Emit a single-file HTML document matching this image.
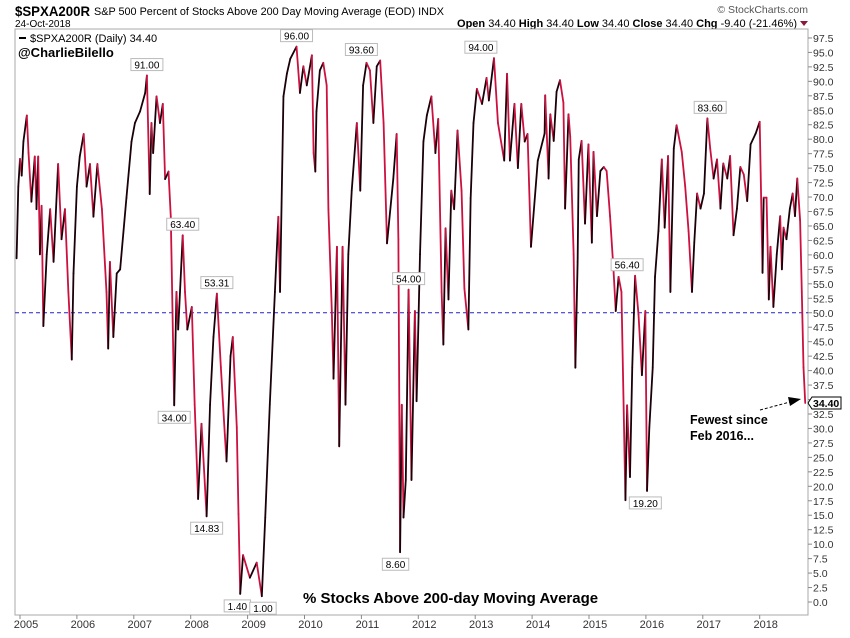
<!DOCTYPE html>
<html><head><meta charset="utf-8"><style>
body{margin:0;background:#fff;font-family:"Liberation Sans",sans-serif}
svg text{font-family:"Liberation Sans",sans-serif}
</style></head><body>
<svg id="chart" width="850" height="633" viewBox="0 0 850 633" xmlns="http://www.w3.org/2000/svg">
<rect x="0" y="0" width="850" height="633" fill="#fff"/>
<text x="15" y="16" font-size="14" font-weight="bold" textLength="75" lengthAdjust="spacingAndGlyphs">$SPXA200R</text>
<text x="94" y="15" font-size="11" textLength="350" lengthAdjust="spacingAndGlyphs">S&amp;P 500 Percent of Stocks Above 200 Day Moving Average (EOD) INDX</text>
<text x="15" y="27" font-size="10">24-Oct-2018</text>
<text x="808" y="13" font-size="10.5" fill="#555" text-anchor="end">© StockCharts.com</text>
<text x="797" y="27" font-size="11" text-anchor="end"><tspan font-weight="bold">Open</tspan> 34.40 <tspan font-weight="bold">High</tspan> 34.40 <tspan font-weight="bold">Low</tspan> 34.40 <tspan font-weight="bold">Close</tspan> 34.40 <tspan font-weight="bold">Chg</tspan> -9.40 (-21.46%)</text>
<polygon points="800,21 808,21 804,26" fill="#8b1a3a"/>
<rect x="15" y="29" width="793" height="586" fill="none" stroke="#aaa"/>
<g id="grid"></g>
<g id="series"></g>
<g id="ann"></g>
<line x1="19" y1="38" x2="26" y2="38" stroke="#000" stroke-width="2"/>
<text x="30" y="42" font-size="11" font-family="Liberation Mono">$SPXA200R (Daily) 34.40</text>
<text x="18" y="57" font-size="13" font-weight="bold">@CharlieBilello</text>
<text x="303" y="603" font-size="15" font-weight="bold">% Stocks Above 200-day Moving Average</text>
<text x="690" y="424" font-size="12.5" font-weight="bold">Fewest since</text>
<text x="690" y="440" font-size="12.5" font-weight="bold">Feb 2016...</text>
<line x1="760" y1="410" x2="790" y2="402" stroke="#000" stroke-dasharray="3,2"/>
<polygon points="801,399 788,397 790,406" fill="#000"/>
</svg>
<script>
const yTicks=[0,2.5,5,7.5,10,12.5,15,17.5,20,22.5,25,27.5,30,32.5,35,37.5,40,42.5,45,47.5,50,52.5,55,57.5,60,62.5,65,67.5,70,72.5,75,77.5,80,82.5,85,87.5,90,92.5,95,97.5];
const years=[2005,2006,2007,2008,2009,2010,2011,2012,2013,2014,2015,2016,2017,2018];
const refLevel=50;
const lastValue=34.40;
const dates=[2004.94,2004.97,2005.0,2005.03,2005.06,2005.12,2005.15,2005.2,2005.26,2005.29,2005.32,2005.35,2005.38,2005.41,2005.47,2005.53,2005.59,2005.67,2005.73,2005.79,2005.85,2005.91,2005.94,2006.0,2006.05,2006.12,2006.17,2006.23,2006.29,2006.36,2006.44,2006.52,2006.55,2006.58,2006.64,2006.70,2006.76,2006.87,2006.96,2007.02,2007.11,2007.2,2007.23,2007.28,2007.31,2007.34,2007.4,2007.46,2007.51,2007.55,2007.61,2007.65,2007.68,2007.71,2007.75,2007.78,2007.86,2007.9,2007.94,2008.02,2008.07,2008.13,2008.19,2008.28,2008.34,2008.4,2008.46,2008.53,2008.6,2008.63,2008.7,2008.74,2008.81,2008.84,2008.87,2008.92,2009.04,2009.16,2009.25,2009.31,2009.39,2009.48,2009.54,
2009.57,2009.63,2009.69,2009.75,2009.86,2009.92,2009.98,2010.04,2010.13,2010.16,2010.19,2010.21,2010.27,2010.33,2010.39,2010.42,2010.48,2010.51,2010.57,2010.61,2010.67,2010.72,2010.77,2010.83,2010.92,2010.98,2011.03,2011.09,2011.15,2011.21,2011.27,2011.33,2011.39,2011.45,2011.56,2011.62,2011.65,2011.68,2011.71,2011.74,2011.78,2011.83,2011.88,2011.94,2011.97,2012.03,2012.09,2012.15,2012.23,2012.3,2012.35,2012.41,2012.44,2012.48,2012.53,2012.58,2012.63,2012.69,2012.76,2012.81,2012.88,2012.92,2012.97,2013.03,2013.12,2013.2,2013.24,2013.33,2013.4,2013.51,2013.56,2013.61,2013.69,2013.75,2013.81,2013.87,2013.92,2013.98,2014.1,2014.22,
2014.23,2014.29,2014.32,2014.38,2014.43,2014.49,2014.55,2014.58,2014.64,2014.67,2014.73,2014.76,2014.8,2014.82,2014.87,2014.93,2014.99,2015.05,2015.08,2015.14,2015.2,2015.26,2015.31,2015.37,2015.43,2015.47,2015.52,2015.57,2015.64,2015.67,2015.72,2015.76,2015.81,2015.87,2015.93,2015.99,2016.02,2016.06,2016.12,2016.16,2016.22,2016.28,2016.33,2016.39,2016.43,2016.49,2016.54,2016.63,2016.69,2016.75,2016.81,2016.85,2016.9,2016.96,2017.02,2017.08,2017.13,2017.19,2017.25,2017.31,2017.36,2017.43,2017.48,2017.54,2017.6,2017.66,2017.72,2017.78,2017.84,2017.93,2018.0,2018.05,2018.07,2018.12,2018.16,2018.19,2018.24,2018.3,2018.36,2018.39,2018.42,2018.47,2018.53,2018.58,2018.62,2018.66,2018.71,2018.74,2018.77,2018.8,2018.83];
const values=[59.4,71.8,76.6,73.7,79.6,84.1,77.6,69.2,77.0,67.9,77.0,60.1,68.5,47.7,60.1,67.9,58.8,75.7,62.7,67.9,53.6,41.9,56.8,71.8,77.0,80.9,71.8,75.7,66.6,75.7,67.9,53.6,43.8,58.8,45.8,56.8,57.5,69.8,79.6,82.8,84.8,88.0,91.0,70.5,82.8,77.6,87.4,82.8,86.1,73.1,74.4,66.6,50.3,34.0,53.6,47.1,63.4,53.6,47.1,51.0,34.1,17.8,30.8,14.8,34.1,45.8,53.3,40.6,28.9,24.3,42.5,45.8,30.2,15.2,1.4,8.1,4.2,6.8,1.0,14.6,34.1,53.6,66.6,
53.6,87.4,91.3,93.9,96.0,88.0,92.6,89.3,94.5,77.6,74.4,84.8,91.9,93.2,89.3,67.9,50.3,38.6,61.4,26.9,61.4,34.1,60.1,71.1,82.8,71.1,89.3,93.2,91.9,82.8,92.6,93.6,82.8,62.0,73.1,80.9,62.7,8.6,34.1,14.6,21.1,54.0,21.1,50.3,34.7,60.1,79.6,84.1,87.4,77.6,83.5,53.6,44.5,64.6,52.3,71.1,67.9,81.5,71.1,54.2,47.1,69.8,82.8,88.7,86.1,90.6,86.7,94.0,82.8,76.3,91.3,76.3,86.1,75.0,86.1,79.6,80.9,61.4,76.3,
81.0,87.6,73.2,84.3,79.7,88.2,90.2,86.3,68.0,84.3,80.4,60.1,40.5,58.8,76.5,79.7,65.4,79.1,62.1,77.8,66.7,74.5,75.2,74.5,66.7,57.5,50.3,56.2,53.6,17.6,34.0,21.6,40.5,56.4,49.7,39.2,50.3,19.2,30.1,40.5,56.2,64.1,76.5,64.7,77.1,53.6,78.4,82.4,77.8,71.9,64.1,53.6,62.1,70.6,68.0,70.6,83.6,78.4,73.2,76.5,68.0,75.8,73.2,77.1,63.4,68.0,75.2,73.9,69.3,79.1,81.0,83.0,56.9,69.9,69.9,52.3,61.4,51.0,60.1,66.7,57.5,64.7,62.7,68.0,70.6,66.7,73.2,66.0,53.6,40.5,34.4];
const annDates=[2007.23,2007.86,2008.46,2007.71,2008.28,2008.82,2009.27,2009.86,2011.0,2011.83,2011.6,2013.1,2015.67,2015.99,2017.13];
const annValues=[91.0,63.4,53.31,34.0,14.83,1.4,1.0,96.0,93.6,54.0,8.6,94.0,56.4,19.2,83.6];
const annAbove=[1,1,1,0,0,0,0,1,1,1,0,1,1,0,1];

const X0=20,PX=56.9,Y0=602,PY=5.785;
const xs=t=>X0+(t-2005)*PX;
const ys=v=>Y0-v*PY;
const NS="http://www.w3.org/2000/svg";
function mk(tag,attrs,parent){const e=document.createElementNS(NS,tag);for(const k in attrs)e.setAttribute(k,attrs[k]);parent.appendChild(e);return e;}
const grid=document.getElementById('grid'),series=document.getElementById('series'),ann=document.getElementById('ann');
yTicks.forEach(v=>{
  const t=mk('line',{x1:808,x2:812,y1:ys(v),y2:ys(v),stroke:'#888'},grid);
  
  
  const l=mk('text',{x:813,y:ys(v)+4,'font-size':10.5,fill:'#333'},grid);
  l.textContent=v.toFixed(1);
  
  
});
years.forEach(y=>{
  const t=mk('line',{x1:xs(y),x2:xs(y),y1:615,y2:619,stroke:'#888'},grid);
  
  
  const l=mk('text',{x:xs(y)+6,y:628,'font-size':11,'text-anchor':'middle',fill:'#333'},grid);
  l.textContent=y;
  
  
});
const ref=mk('line',{x1:15,x2:808,y1:ys(refLevel),y2:ys(refLevel),stroke:'#2222cc','stroke-dasharray':'4,3'},grid);


const n=Math.min(dates.length,values.length);
for(let i=1;i<n;i++){
  const up=values[i]>values[i-1];
  const s=mk('line',{x1:xs(dates[i-1]),y1:ys(values[i-1]),x2:xs(dates[i]),y2:ys(values[i]),stroke:up?'#1a0008':'#cc1040','stroke-width':1.8,'stroke-linecap':'round'},series);
  
  
}
annDates.forEach((d,i)=>{
  const x=xs(d),y=ys(annValues[i]);
  const txt=annValues[i].toFixed(2);
  const w=txt.length*5.6+4;
  const by=annAbove[i]?y-17:y+6;
  const r=mk('rect',{x:x-w/2,y:by,width:w,height:12,fill:'#fff',stroke:'#bbb'},ann);
  
  
  const t=mk('text',{x:x,y:by+10,'font-size':10,'text-anchor':'middle'},ann);
  t.textContent=txt;
  
  
});
const ly=ys(lastValue);
const lb=mk('polygon',{points:`808,${ly} 812,${ly-6} 841,${ly-6} 841,${ly+6} 812,${ly+6}`,fill:'#fff',stroke:'#000'},ann);


const lt=mk('text',{x:813,y:ly+4,'font-size':10.5,'font-weight':'bold'},ann);
lt.textContent=lastValue.toFixed(2);


</script>
</body></html>
